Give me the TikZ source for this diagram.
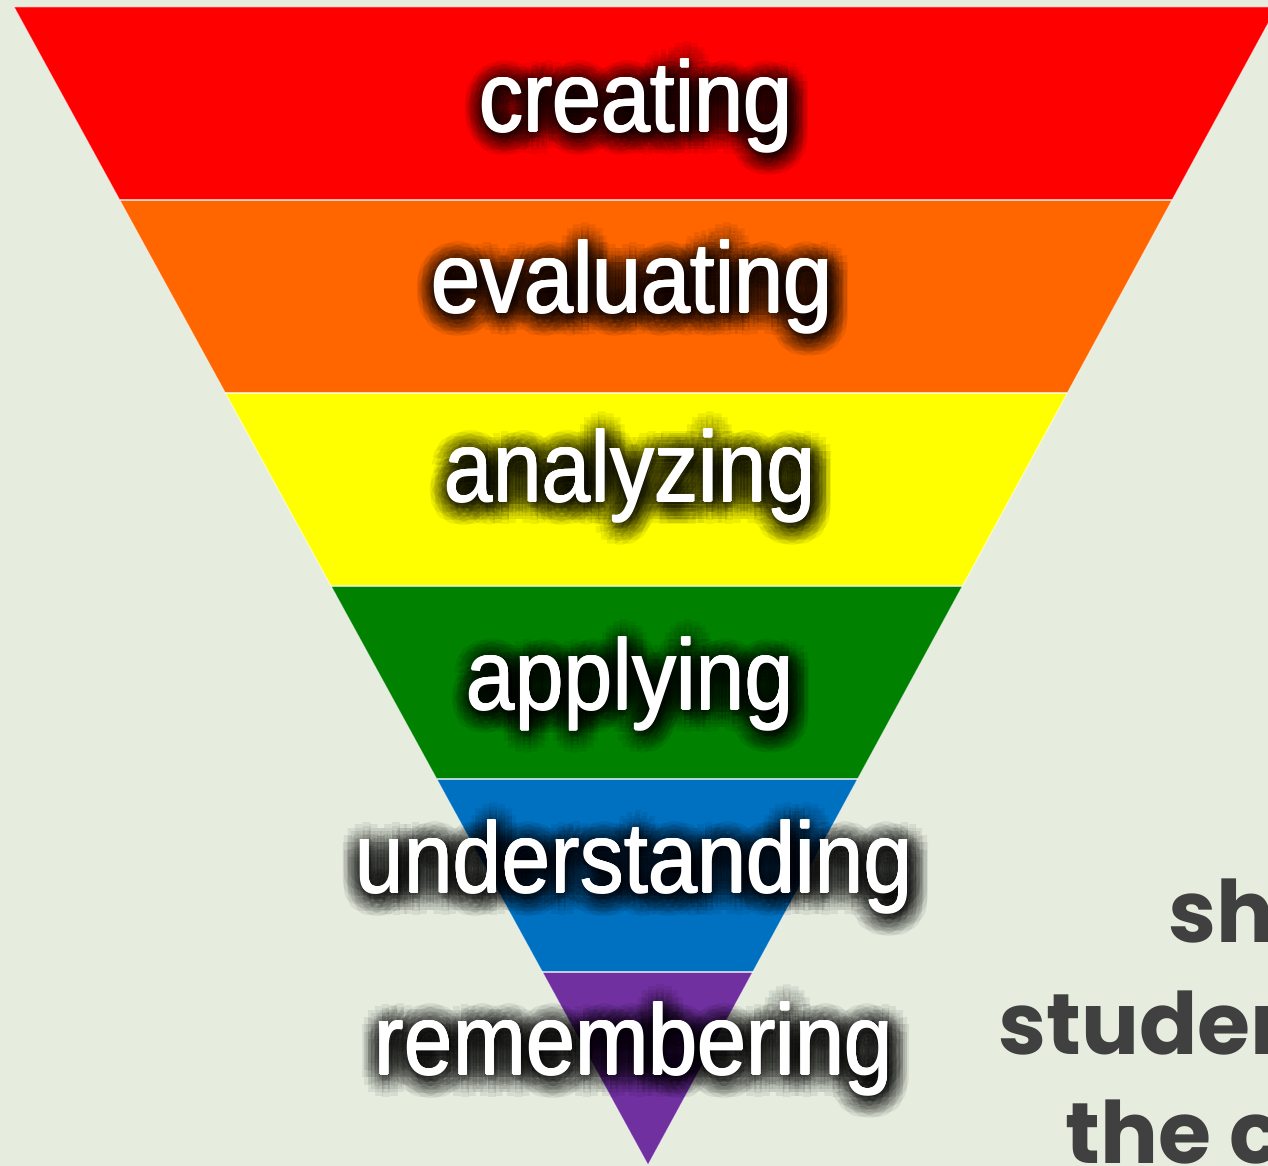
\documentclass[tikz,border=0pt]{standalone}
\usepackage{fontspec}
\usepackage{graphicx}
\setmainfont{Liberation Sans}
\newfontfamily\gothicfont{Poppins}
\usetikzlibrary{calc}

\definecolor{panel}{HTML}{E6EDDF}
\definecolor{bandred}{HTML}{FF0000}
\definecolor{bandorange}{HTML}{FF6600}
\definecolor{bandyellow}{HTML}{FFFF00}
\definecolor{bandgreen}{HTML}{008200}
\definecolor{bandblue}{HTML}{0070C0}
\definecolor{bandpurple}{HTML}{7030A0}
\definecolor{sidegray}{HTML}{404040}

\newcommand{\lblfont}{\fontsize{88}{96}\selectfont}
\newcommand{\tall}[1]{\scalebox{1}[1.14]{#1}}

\begin{document}
\begin{tikzpicture}[x=1pt,y=1pt,
	halo/.style={anchor=base,inner sep=0pt,text=black,text opacity=0.07,font=\lblfont},
	lbl/.style={anchor=base,inner sep=0pt,text=white,font=\lblfont},
	side/.style={anchor=base west,inner sep=0pt,text=sidegray,font=\gothicfont\bfseries\fontsize{86}{92}\selectfont}]

	\useasboundingbox (0,0) rectangle (1268,1166);
	\clip (0,0) rectangle (1268,1166);
	\fill[panel] (0,0) rectangle (1268,1166);

	% inverted pyramid, six equal bands
	\coordinate (tl) at (14,1159);
	\coordinate (tr) at (1277,1159);
	\coordinate (tip) at (648,1);
	\foreach \i/\col in {0/bandred,1/bandorange,2/bandyellow,3/bandgreen,4/bandblue,5/bandpurple} {
		\fill[\col] ($(tl)!\i/6!(tip)$) -- ($(tr)!\i/6!(tip)$)
			-- ($(tr)!{(\i+1)/6}!(tip)$) -- ($(tl)!{(\i+1)/6}!(tip)$) -- cycle;
	}
	\foreach \i in {1,...,5}
		\draw[white,opacity=0.7,line width=1.5pt] ($(tl)!\i/6!(tip)$) -- ($(tr)!\i/6!(tip)$);
	\draw[white,opacity=0.6,line width=1pt] (tl) -- (tr) -- (tip) -- cycle;

	% level names with dark glow
	\foreach \name/\x/\y in {creating/636/1034,evaluating/632/853,analyzing/630/664,
		applying/630/456,understanding/634/273,remembering/634/91} {
		\foreach \r in {4,8,...,20}
			\foreach \a in {0,22.5,...,337.5}
				\node[halo] (\name-\r-\a) at ($(\x,\y)+(\a:\r)+(2,-3)$) {\tall{\name}};
		\foreach \dx/\dy in {-0.8/0,0.8/0,0/-0.8,0/0.8}
			\node[lbl] (\name-\dx-\dy) at ($(\x,\y)+(\dx,\dy)$) {\tall{\name}};
		\node[lbl] (\name) at (\x,\y) {\tall{\name}};
	}

	% text running off the right edge
	\node[side] (line1) at (1168,223) {sh};
	\node[side] (line2) at (998,111) {studen};
	\node[side] (line3) at (1065,2) {the c};
\end{tikzpicture}
\end{document}
